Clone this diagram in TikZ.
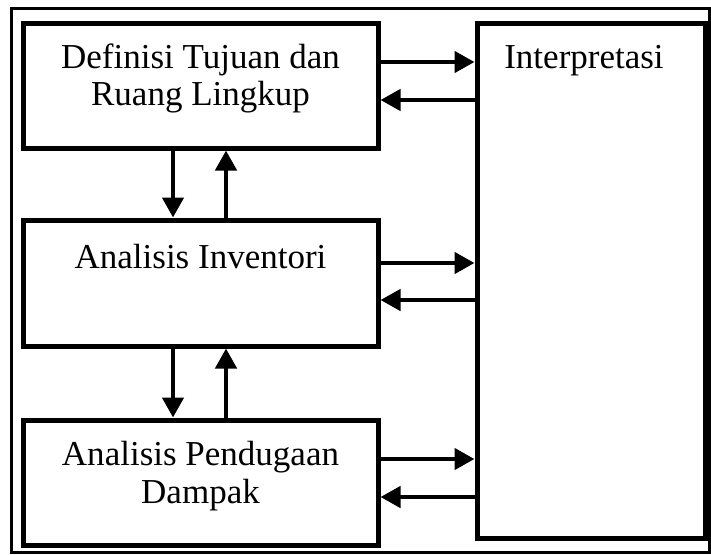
\documentclass[tikz,border=0pt]{standalone}
\usepackage{fontspec}
\setmainfont{Liberation Serif}
\usetikzlibrary{arrows.meta}
\begin{document}
\begin{tikzpicture}[x=1pt, y=-1pt, every node/.style={font=\fontsize{35}{42}\selectfont}]
\tikzset{box/.style={draw, line width=5pt, minimum width=355pt, minimum height=125pt, inner sep=0pt},
  lbl/.style={align=center, inner sep=0pt, anchor=base},
  arr/.style={line width=4.5pt, -{Triangle[length=20pt, width=21pt]}}}
\useasboundingbox (0,0) rectangle (711,554);
% frame
\draw[line width=3pt] (11,8) rectangle (709,552);
% boxes
\node[box] (def) at (200.5,85.5) {}; \node[box, minimum height=126pt] (inv) at (200.5,283) {}; \node[box] (imp) at (200.5,482.5) {};
\node[box, minimum width=228pt, minimum height=515pt] (intp) at (591,280.5) {};
% texts
\node[lbl] (tdef) at (200.5,68) {Definisi Tujuan dan}; \node[lbl] (tdef2) at (200.5,105) {Ruang Lingkup};
\node[lbl] (tinv) at (200.5,268) {Analisis Inventori};
\node[lbl] (timp) at (200.5,465) {Analisis Pendugaan}; \node[lbl] (timp2) at (200.5,503) {Dampak};
\node[lbl] (tintp) at (584,68) {Interpretasi};
% vertical arrows
\draw[arr] ([xshift=-27.5pt]def.south) -- ([xshift=-27.5pt]inv.north); \draw[arr] ([xshift=25.5pt]inv.north) -- ([xshift=25.5pt]def.south);
\draw[arr] ([xshift=-27.5pt]inv.south) -- ([xshift=-27.5pt]imp.north); \draw[arr] ([xshift=25.5pt]imp.north) -- ([xshift=25.5pt]inv.south);
% horizontal arrows
\draw[arr] ([yshift=23.5pt]def.east) -- ([yshift=23.5pt]def.east -| intp.west); \draw[arr] ([yshift=-14.5pt]def.east -| intp.west) -- ([yshift=-14.5pt]def.east);
\draw[arr] ([yshift=20pt]inv.east) -- ([yshift=20pt]inv.east -| intp.west); \draw[arr] ([yshift=-17pt]inv.east -| intp.west) -- ([yshift=-17pt]inv.east);
\draw[arr] ([yshift=23.5pt]imp.east) -- ([yshift=23.5pt]imp.east -| intp.west); \draw[arr] ([yshift=-14.5pt]imp.east -| intp.west) -- ([yshift=-14.5pt]imp.east);
\end{tikzpicture}
\end{document}
